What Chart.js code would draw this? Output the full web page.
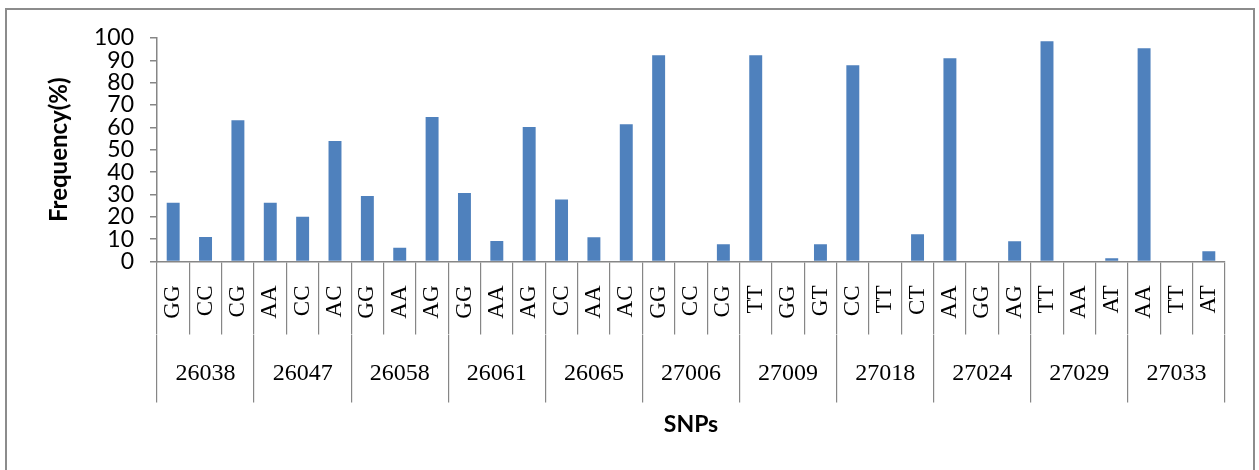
<!DOCTYPE html>
<html>
<head>
<meta charset="utf-8">
<script src="https://cdn.jsdelivr.net/npm/chart.js@4.4.1/dist/chart.umd.min.js"></script>
<style>
  html, body { margin: 0; padding: 0; background: #ffffff; }
  #wrap { position: relative; width: 1259px; height: 470px; }
</style>
</head>
<body>
<div id="wrap"><canvas id="chart" width="1259" height="470"></canvas></div>
<script>
// SNP loci, three genotypes each
const groups = ['26038', '26047', '26058', '26061', '26065', '27006', '27009', '27018', '27024', '27029', '27033'];
const genotypes = [
  'GG', 'CC', 'CG',
  'AA', 'CC', 'AC',
  'GG', 'AA', 'AG',
  'GG', 'AA', 'AG',
  'CC', 'AA', 'AC',
  'GG', 'CC', 'CG',
  'TT', 'GG', 'GT',
  'CC', 'TT', 'CT',
  'AA', 'GG', 'AG',
  'TT', 'AA', 'AT',
  'AA', 'TT', 'AT'
];
// genotype frequency (%)
const frequency = [
  26.3, 11.0, 63.2,
  26.3, 20.0, 53.9,
  29.3, 6.1, 64.6,
  30.6, 9.2, 60.2,
  27.7, 10.9, 61.4,
  92.3, 0, 7.7,
  92.3, 0, 7.7,
  87.8, 0, 12.2,
  90.9, 0, 9.1,
  98.5, 0, 1.5,
  95.4, 0, 4.6
];
const yTickValues = [0, 10, 20, 30, 40, 50, 60, 70, 80, 90, 100];

const axisGray = '#868686';

// white page with a grey frame round the whole chart
const framePlugin = {
  id: 'frame',
  beforeDraw(chart) {
    const ctx = chart.ctx;
    ctx.save();
    ctx.fillStyle = '#ffffff';
    ctx.fillRect(0, 0, chart.width, chart.height);
    ctx.strokeStyle = '#8c8c8c';
    ctx.lineWidth = 2;
    ctx.strokeRect(6, 9, 1248, 470);
    ctx.restore();
  }
};

new Chart(document.getElementById('chart'), {
  type: 'bar',
  data: {
    labels: genotypes,
    datasets: [{
      data: frequency,
      backgroundColor: '#4F81BD',
      borderWidth: 0,
      barPercentage: 0.4,
      categoryPercentage: 1.0,
      xAxisID: 'x',
      yAxisID: 'y'
    }]
  },
  options: {
    responsive: false,
    devicePixelRatio: 1,
    animation: false,
    layout: { padding: { left: 38, top: 38, right: 34, bottom: 31.5 } },
    plugins: {
      legend: { display: false },
      tooltip: { enabled: false }
    },
    scales: {
      y: {
        min: 0,
        max: 100,
        afterBuildTicks(scale) {
          scale.ticks = yTickValues.map(v => ({ value: v }));
        },
        afterFit(scale) { scale.width = 119; },
        grid: { drawOnChartArea: false, drawTicks: true, tickLength: 7, color: axisGray, lineWidth: 1.5 },
        border: { color: axisGray, width: 1.5 },
        ticks: {
          autoSkip: false,
          font: { family: 'Lato', size: 23 },
          color: '#000000',
          padding: 16
        },
        title: {
          display: true,
          text: 'Frequency(%)',
          font: { family: 'Lato', size: 24, weight: 'bold' },
          color: '#000000',
          padding: { top: 7, bottom: 0 }
        }
      },
      x: {
        type: 'category',
        position: 'bottom',
        weight: 0,
        offset: true,
        afterFit(scale) { scale.height = 73; },
        grid: { offset: true, drawOnChartArea: false, drawTicks: true, tickLength: 73, color: axisGray, lineWidth: 1.2 },
        border: { color: axisGray, width: 1.5 },
        ticks: {
          autoSkip: false,
          minRotation: 90,
          maxRotation: 90,
          font: { family: 'Liberation Serif', size: 23 },
          color: '#000000',
          padding: -49
        }
      },
      x2: {
        type: 'category',
        labels: groups,
        position: 'bottom',
        weight: 1,
        offset: true,
        afterFit(scale) { scale.height = 104; },
        grid: { offset: true, drawOnChartArea: false, drawTicks: true, tickLength: 68, color: axisGray, lineWidth: 1.2 },
        border: { display: false },
        ticks: {
          autoSkip: false,
          maxRotation: 0,
          font: { family: 'Liberation Serif', size: 24 },
          color: '#000000',
          padding: -43
        },
        title: {
          display: true,
          text: 'SNPs',
          font: { family: 'Lato', size: 23, weight: 'bold' },
          color: '#000000',
          padding: 0
        }
      }
    }
  },
  plugins: [framePlugin]
});
</script>
</body>
</html>
